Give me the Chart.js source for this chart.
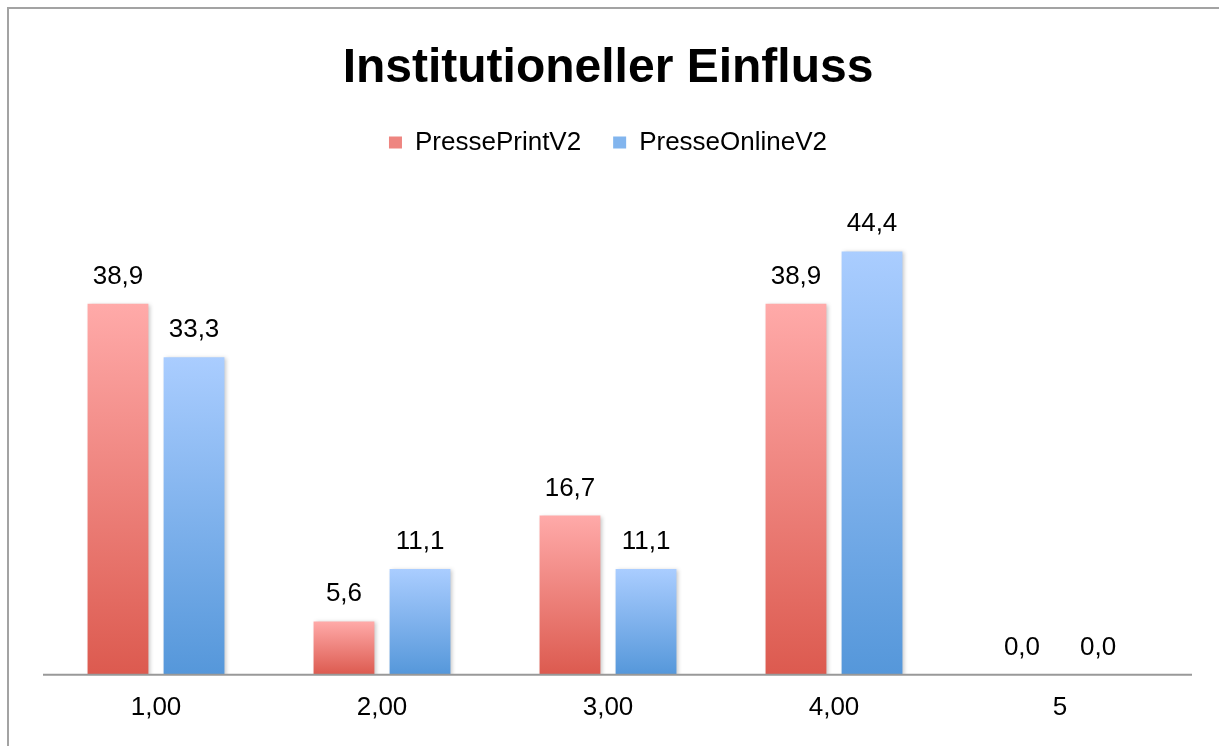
<!DOCTYPE html>
<html lang="de">
<head>
    <meta charset="UTF-8">
    <title>Institutioneller Einfluss</title>
    <script src="https://cdn.jsdelivr.net/npm/chart.js"></script>
    <style>
        body {
            margin: 0;
            background: #fff;
            overflow: hidden;
        }
        .frame {
            position: absolute;
            left: 7px;
            top: 7px;
            right: 0;
            bottom: 0;
            border-left: 2px solid #a3a3a3;
            border-top: 2px solid #a3a3a3;
        }
        .chart-container {
            position: absolute;
            left: 0;
            top: 0;
            width: 1219px;
            height: 746px;
        }
    </style>
</head>
<body>
    <div class="frame"></div>
    <div class="chart-container">
        <canvas id="barChart"></canvas>
    </div>

    <script>
        // Daten
        const categories = ['1,00', '2,00', '3,00', '4,00', '5'];
        const printValues = [38.9, 5.6, 16.7, 38.9, 0.0];
        const onlineValues = [33.3, 11.1, 11.1, 44.4, 0.0];
        const seriesNames = ['PressePrintV2', 'PresseOnlineV2'];

        const legendColors = ['#ee8580', '#82b5ee'];

        Chart.defaults.font.family = '"Liberation Sans", Arial, Helvetica, sans-serif';
        Chart.defaults.color = '#000';

        // Verlauf pro Balken: hell oben, dunkel unten
        function barGradient(topColor, bottomColor) {
            return function (context) {
                const chart = context.chart;
                const yScale = chart.scales.y;
                if (!chart.chartArea || !yScale || context.type !== 'data') return bottomColor;
                const yTop = yScale.getPixelForValue(context.raw);
                const yBase = yScale.getPixelForValue(0);
                if (yBase - yTop < 1) return bottomColor;
                const g = chart.ctx.createLinearGradient(0, yTop, 0, yBase);
                g.addColorStop(0, topColor);
                g.addColorStop(1, bottomColor);
                return g;
            };
        }

        const barDecor = {
            id: 'barDecor',
            beforeDatasetsDraw(chart) {
                const ctx = chart.ctx;
                ctx.save();
                ctx.shadowColor = 'rgba(0,0,0,0.22)';
                ctx.shadowBlur = 4;
                ctx.shadowOffsetX = 2;
                ctx.shadowOffsetY = 1;
            },
            afterDatasetsDraw(chart) {
                const ctx = chart.ctx;
                ctx.restore();

                // Grundlinie
                const area = chart.chartArea;
                const yBase = chart.scales.y.getPixelForValue(0);
                ctx.save();
                ctx.strokeStyle = '#999';
                ctx.lineWidth = 2;
                ctx.beginPath();
                ctx.moveTo(area.left, yBase);
                ctx.lineTo(area.right + 19, yBase);
                ctx.stroke();

                // Datenbeschriftung
                ctx.fillStyle = '#000';
                ctx.font = '26px "Liberation Sans", Arial, sans-serif';
                ctx.textAlign = 'center';
                ctx.textBaseline = 'alphabetic';
                chart.data.datasets.forEach((ds, i) => {
                    chart.getDatasetMeta(i).data.forEach((bar, j) => {
                        const text = ds.data[j].toFixed(1).replace('.', ',');
                        ctx.fillText(text, bar.x, bar.y - 20);
                    });
                });
                ctx.restore();
            }
        };

        const ctx = document.getElementById('barChart').getContext('2d');
        new Chart(ctx, {
            type: 'bar',
            data: {
                labels: categories,
                datasets: [{
                    label: seriesNames[0],
                    data: printValues,
                    backgroundColor: barGradient('#ffaaa9', '#dc5a4f')
                }, {
                    label: seriesNames[1],
                    data: onlineValues,
                    backgroundColor: barGradient('#aacdff', '#5597da')
                }]
            },
            options: {
                responsive: true,
                maintainAspectRatio: false,
                animation: false,
                layout: {
                    padding: { left: 43, right: 46, top: 0, bottom: 14 }
                },
                datasets: {
                    bar: {
                        categoryPercentage: 0.673,
                        barPercentage: 0.8
                    }
                },
                scales: {
                    x: {
                        grid: { display: false },
                        border: { display: false },
                        ticks: {
                            padding: 9,
                            font: { size: 26 },
                            color: '#000'
                        }
                    },
                    y: {
                        display: false,
                        min: 0,
                        max: 53.4
                    }
                },
                plugins: {
                    title: {
                        display: true,
                        text: 'Institutioneller Einfluss',
                        font: { size: 48, weight: 'bold' },
                        color: '#000',
                        padding: { top: 40, bottom: 0 }
                    },
                    legend: {
                        position: 'top',
                        labels: {
                            boxWidth: 13,
                            boxHeight: 12,
                            padding: 32,
                            font: { size: 26 },
                            color: '#000',
                            generateLabels: chart => chart.data.datasets.map((ds, i) => ({
                                text: ds.label,
                                fillStyle: legendColors[i],
                                strokeStyle: legendColors[i],
                                lineWidth: 0,
                                hidden: false,
                                datasetIndex: i
                            }))
                        }
                    },
                    tooltip: { enabled: false }
                }
            },
            plugins: [barDecor]
        });
    </script>
</body>
</html>
